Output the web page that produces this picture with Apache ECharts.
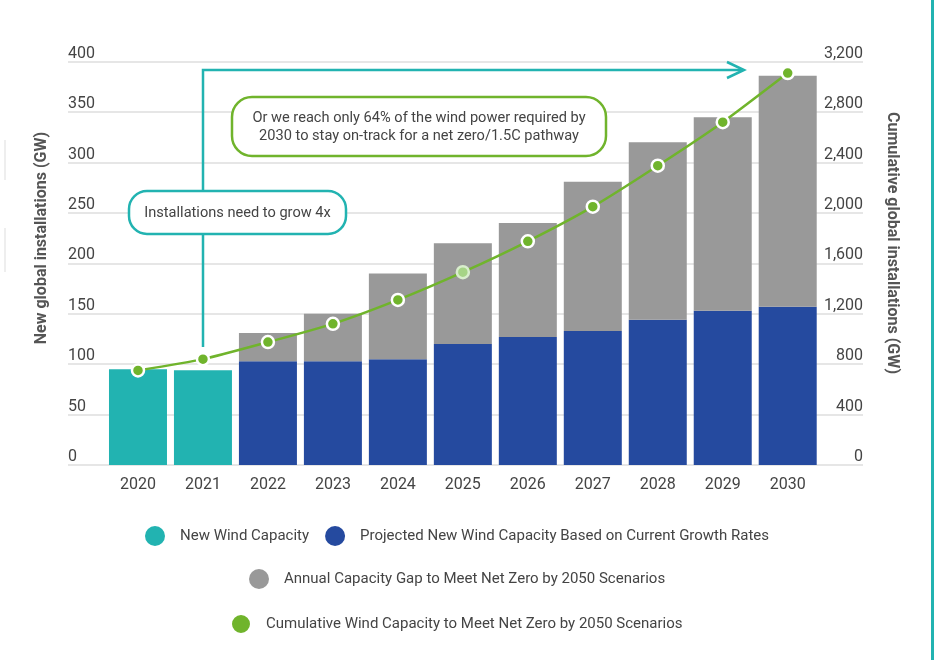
<!DOCTYPE html>
<html>
<head>
<meta charset="utf-8">
<script src="https://cdn.jsdelivr.net/npm/echarts@6/dist/echarts.min.js"></script>
<style>
html,body{margin:0;padding:0;background:#fff;}
#chart{width:934px;height:660px;}
</style>
</head>
<body>
<div id="chart"></div>
<script>
const years = ['2020','2021','2022','2023','2024','2025','2026','2027','2028','2029','2030'];
const newCapacity = [95, 94, null, null, null, null, null, null, null, null, null];
const projected = [null, null, 103, 103, 105, 120, 127, 133, 144, 153, 157];
const capacityGap = [null, null, 28, 47, 85, 100, 113, 148, 176, 192, 229];
const cumulative = [750, 840, 975, 1120, 1310, 1530, 1775, 2050, 2375, 2720, 3110];

const seriesNames = [
  'New Wind Capacity',
  'Projected New Wind Capacity Based on Current Growth Rates',
  'Annual Capacity Gap to Meet Net Zero by 2050 Scenarios',
  'Cumulative Wind Capacity to Meet Net Zero by 2050 Scenarios'
];
const leftAxisName = 'New global installations (GW)';
const rightAxisName = 'Cumulative global installations (GW)';
const note1 = 'Installations need to grow 4x';
const note2 = 'Or we reach only 64% of the wind power required by\n2030 to stay on-track for a net zero/1.5C pathway';

const TEAL = '#22b3b1', BLUE = '#254a9f', GREY = '#999999', GREEN = '#70b42c';
const TXT = '#444444';
const FONT = 'Roboto';

const chart = echarts.init(document.getElementById('chart'), null, {renderer: 'canvas'});

const lineData = cumulative.map((v, i) => i === 5
  ? {value: v, itemStyle: {color: '#a6d486', borderColor: '#d9eecd'}}
  : v);

const legendText = {color: TXT, fontSize: 15, fontFamily: FONT, padding: [0, 0, 0, 10]};

chart.setOption({
  animation: false,
  textStyle: {fontFamily: FONT},
  grid: [
    {left: 105.5, right: 113.8, top: 61.7, bottom: 195},
    {left: 68, right: 71, top: 61.7, bottom: 195}
  ],
  legend: [
    {data: [seriesNames[0], seriesNames[1]], left: 140, top: 521, icon: 'circle',
     itemWidth: 20, itemHeight: 20, itemGap: 16, textStyle: legendText},
    {data: [seriesNames[2]], left: 244, top: 564, icon: 'circle',
     itemWidth: 20, itemHeight: 20, textStyle: legendText},
    {data: [seriesNames[3]], left: 225, top: 608, icon: 'circle',
     itemWidth: 20, itemHeight: 20, textStyle: legendText}
  ],
  xAxis: [
    {type: 'category', gridIndex: 0, data: years,
     axisLine: {show: false}, axisTick: {show: false},
     axisLabel: {color: TXT, fontSize: 16, margin: 12, fontFamily: FONT}},
    {type: 'category', gridIndex: 1, data: [''], show: false}
  ],
  yAxis: [
    {type: 'value', gridIndex: 1, position: 'left', min: 0, max: 400, interval: 50,
     axisLine: {show: false}, axisTick: {show: false},
     splitLine: {show: true, lineStyle: {color: '#dedede', width: 1.5}},
     axisLabel: {inside: true, margin: 0, verticalAlign: 'bottom', color: TXT, fontSize: 16, fontFamily: FONT}},
    {type: 'value', gridIndex: 1, position: 'right', min: 0, max: 3200, interval: 400,
     axisLine: {show: false}, axisTick: {show: false}, splitLine: {show: false},
     axisLabel: {inside: true, margin: 0, verticalAlign: 'bottom', color: TXT, fontSize: 16, fontFamily: FONT,
       formatter: v => v.toLocaleString('en-US')}},
    {type: 'value', gridIndex: 0, position: 'left', min: 0, max: 400, interval: 50, show: false,
     splitLine: {show: false}},
    {type: 'value', gridIndex: 0, position: 'right', min: 0, max: 3200, interval: 400, show: false,
     splitLine: {show: false}}
  ],
  series: [
    {name: seriesNames[0], type: 'bar', stack: 'a', xAxisIndex: 0, yAxisIndex: 2,
     barWidth: 58, data: newCapacity, itemStyle: {color: TEAL}},
    {name: seriesNames[1], type: 'bar', stack: 'a', xAxisIndex: 0, yAxisIndex: 2,
     barWidth: 58, data: projected, itemStyle: {color: BLUE}},
    {name: seriesNames[2], type: 'bar', stack: 'a', xAxisIndex: 0, yAxisIndex: 2,
     barWidth: 58, data: capacityGap, itemStyle: {color: GREY}},
    {name: seriesNames[3], type: 'line', xAxisIndex: 0, yAxisIndex: 3, smooth: 0.2,
     data: lineData, symbol: 'circle', symbolSize: 12, z: 5,
     lineStyle: {color: GREEN, width: 2.5},
     itemStyle: {color: GREEN, borderColor: '#ffffff', borderWidth: 2.5}}
  ],
  graphic: [
    {type: 'rect', shape: {x: 931, y: 0, width: 3, height: 660}, style: {fill: TEAL}, silent: true},
    {type: 'line', shape: {x1: 5, y1: 140, x2: 5, y2: 180}, style: {stroke: '#dddddd', lineWidth: 1}, silent: true},
    {type: 'line', shape: {x1: 5, y1: 228, x2: 5, y2: 272}, style: {stroke: '#dddddd', lineWidth: 1}, silent: true},
    {type: 'text', x: 42, y: 238, rotation: Math.PI / 2,
     style: {text: leftAxisName, fill: '#555', font: 'bold 16px Roboto', align: 'center', verticalAlign: 'middle'}},
    {type: 'text', x: 892, y: 243, rotation: -Math.PI / 2,
     style: {text: rightAxisName, fill: '#555', font: 'bold 16px Roboto', align: 'center', verticalAlign: 'middle'}},
    {type: 'polyline', z: 10, shape: {points: [[203, 347], [203, 70], [743, 70]]},
     style: {stroke: TEAL, lineWidth: 2.5, fill: null}},
    {type: 'polyline', z: 10, shape: {points: [[727, 62], [744, 70], [727, 78]]},
     style: {stroke: TEAL, lineWidth: 2.5, fill: null}},
    {type: 'rect', z: 11, shape: {x: 129, y: 191, width: 217, height: 43, r: 18},
     style: {fill: '#fff', stroke: TEAL, lineWidth: 2.5}},
    {type: 'text', z: 12, x: 237.5, y: 213,
     style: {text: note1, fill: TXT, font: '14.6px Roboto', align: 'center', verticalAlign: 'middle'}},
    {type: 'rect', z: 11, shape: {x: 232, y: 97, width: 374, height: 59, r: 20},
     style: {fill: '#fff', stroke: GREEN, lineWidth: 2.5}},
    {type: 'text', z: 12, x: 419, y: 127,
     style: {text: note2, fill: TXT, font: '14.6px Roboto', lineHeight: 18, align: 'center', verticalAlign: 'middle'}}
  ]
});
</script>
</body>
</html>
